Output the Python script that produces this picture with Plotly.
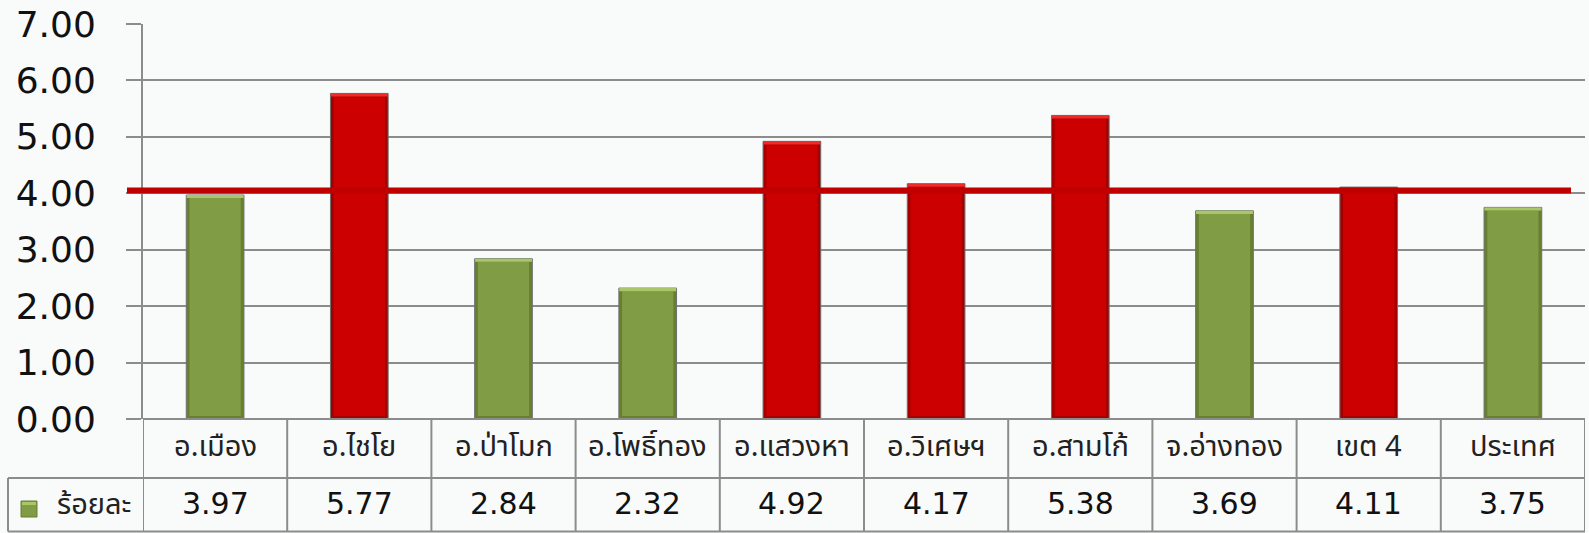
import plotly.graph_objects as go

categories = ["อ.เมือง", "อ.ไชโย", "อ.ป่าโมก", "อ.โพธิ์ทอง", "อ.แสวงหา",
              "อ.วิเศษฯ", "อ.สามโก้", "จ.อ่างทอง", "เขต 4", "ประเทศ"]
values = [3.97, 5.77, 2.84, 2.32, 4.92, 4.17, 5.38, 3.69, 4.11, 3.75]
series_name = "ร้อยละ"
target = 4.05
y_ticks = [0, 1, 2, 3, 4, 5, 6, 7]

GREEN = "#809c45"
GREEN_EDGE = "#67802f"
GREEN_TOP = "#a9c76a"
RED = "#cc0000"
RED_EDGE = "#a50000"
RED_TOP = "#ee2a2a"
GRID = "#8c8c8c"
BG = "#f9fafa"

W, H = 1589, 533
L, R, T, B = 143, 4, 24, 114
plot_h = H - T - B
plot_w = W - L - R


def py(px):
    """pixel y (from top) -> paper y"""
    return (H - B - px) / plot_h


def pxx(px):
    return (px - L) / plot_w


above = [v > target for v in values]
face = [RED if a else GREEN for a in above]
edge = [RED_EDGE if a else GREEN_EDGE for a in above]
top = [RED_TOP if a else GREEN_TOP for a in above]

xs = list(range(len(categories)))
bev = 0.055  # bevel thickness in data units (style)

fig = go.Figure()
# outer bar (edge shading)
fig.add_trace(go.Bar(
    x=xs, y=values, width=0.40,
    marker=dict(color=edge, line=dict(color="#6f6f6f", width=1)),
    name=series_name, showlegend=False, hoverinfo="x+y",
))
# inner face
fig.add_trace(go.Bar(
    x=xs, y=[v - 2 * bev for v in values], base=bev, width=0.355,
    marker=dict(color=face, line=dict(width=0)),
    showlegend=False, hoverinfo="skip",
))
# top highlight
fig.add_trace(go.Bar(
    x=xs, y=[bev] * len(values), base=[v - bev for v in values], width=0.395,
    marker=dict(color=top, line=dict(width=0)),
    showlegend=False, hoverinfo="skip",
))

shapes = []
# target line
shapes.append(dict(type="line", xref="paper", yref="y", x0=pxx(127), x1=pxx(1571),
                   y0=target, y1=target, line=dict(color="#c00000", width=6), layer="above"))

# data table grid
n = len(categories)
tl = dict(color=GRID, width=2)
row1_bot = py(478)
row2_bot = py(531.5)
for i in range(n + 1):
    shapes.append(dict(type="line", xref="x", yref="paper", x0=i - 0.5, x1=i - 0.5,
                       y0=0, y1=row2_bot, line=tl))
shapes.append(dict(type="line", xref="x", yref="paper", x0=-0.5, x1=n - 0.5,
                   y0=0, y1=0, line=tl))
shapes.append(dict(type="line", xref="paper", yref="paper", x0=pxx(8), x1=1,
                   y0=row1_bot, y1=row1_bot, line=tl))
shapes.append(dict(type="line", xref="paper", yref="paper", x0=pxx(8), x1=1,
                   y0=row2_bot, y1=row2_bot, line=tl))
shapes.append(dict(type="line", xref="paper", yref="paper", x0=pxx(8), x1=pxx(8),
                   y0=row1_bot, y1=row2_bot, line=tl))
# legend key
shapes.append(dict(type="rect", xref="paper", yref="paper", x0=pxx(21), x1=pxx(37),
                   y0=py(517), y1=py(501), fillcolor=GREEN,
                   line=dict(color=GREEN_EDGE, width=1)))
shapes.append(dict(type="rect", xref="paper", yref="paper", x0=pxx(22), x1=pxx(36),
                   y0=py(505), y1=py(502), fillcolor=GREEN_TOP, line=dict(width=0)))

annotations = []
thai_font = "Tahoma, 'Noto Sans Thai', 'Noto Sans', 'DejaVu Sans', sans-serif"
for i, (c, v) in enumerate(zip(categories, values)):
    annotations.append(dict(x=i, y=py(447), xref="x", yref="paper", text=c,
                            xanchor="center", yanchor="middle",
                            showarrow=False, font=dict(family=thai_font, size=29, color="#222")))
    annotations.append(dict(x=i, y=py(503), xref="x", yref="paper", text=f"{v:.2f}",
                            xanchor="center", yanchor="middle",
                            showarrow=False, font=dict(family="DejaVu Sans", size=30, color="#111")))
annotations.append(dict(x=pxx(55), y=py(505), xref="paper", yref="paper", text=series_name,
                        xanchor="left", yanchor="middle", showarrow=False,
                        font=dict(family=thai_font, size=29, color="#222")))

fig.update_layout(
    width=W, height=H,
    margin=dict(l=L, r=R, t=T, b=B, pad=0),
    paper_bgcolor=BG, plot_bgcolor=BG,
    barmode="overlay",
    shapes=shapes, annotations=annotations,
    xaxis=dict(range=[-0.5, n - 0.5], showticklabels=False, showgrid=False,
               zeroline=False, showline=False, ticks=""),
    yaxis=dict(range=[0, 7], tickvals=y_ticks, ticktext=[f"{t:.2f}" for t in y_ticks],
               showgrid=True, gridcolor=GRID, gridwidth=2, zeroline=False,
               showline=True, linecolor=GRID, linewidth=2,
               ticks="outside", ticklen=15, tickcolor=GRID, tickwidth=2,
               ticklabelstandoff=23, automargin=False,
               tickfont=dict(family="DejaVu Sans", size=36, color="#111")),
)

fig.write_html("out.html", config={"displayModeBar": False},
               post_script="document.body.style.margin='0';document.body.style.overflow='hidden';")
